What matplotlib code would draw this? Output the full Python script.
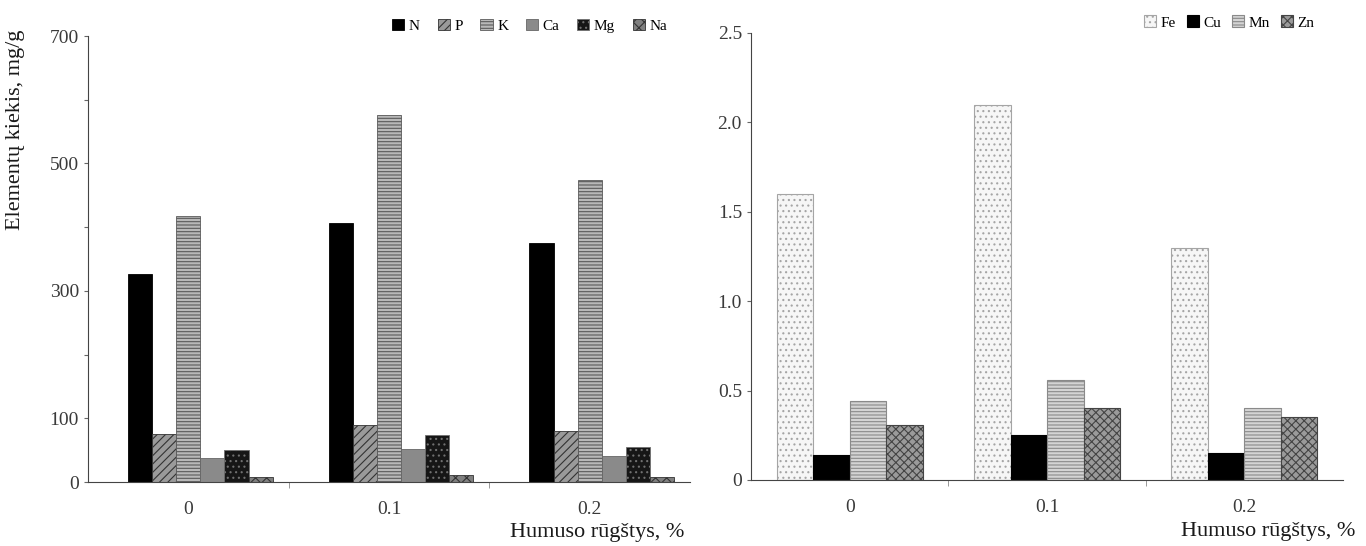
import numpy as np
import matplotlib.pyplot as plt

plt.rcParams['font.family'] = ['Liberation Serif', 'DejaVu Serif']
plt.rcParams['hatch.linewidth'] = 0.8

groups = ['0', '0.1', '0.2']

# macro elements, mg/g
macro = ['N', 'P', 'K', 'Ca', 'Mg', 'Na']
N = [326, 407, 375]
P = [75, 89, 80]
K = [418, 576, 474]
Ca = [37, 52, 41]
Mg = [50, 74, 55]
Na = [8, 11, 8]

# micro elements
micro = ['Fe', 'Cu', 'Mn', 'Zn']
Fe = [1.6, 2.1, 1.3]
Cu = [0.14, 0.25, 0.15]
Mn = [0.44, 0.56, 0.40]
Zn = [0.31, 0.40, 0.35]

macro_style = [
    dict(facecolor='black', edgecolor='black'),
    dict(facecolor='#9a9a9a', edgecolor='#333333', hatch='////'),
    dict(facecolor='#b8b8b8', edgecolor='#5a5a5a', hatch='-----'),
    dict(facecolor='#8a8a8a', edgecolor='#666666'),
    dict(facecolor='#161616', edgecolor='#707070', hatch='...'),
    dict(facecolor='#808080', edgecolor='#333333', hatch='xxx'),
]
micro_style = [
    dict(facecolor='#f6f6f6', edgecolor='#a5a5a5', hatch='...'),
    dict(facecolor='black', edgecolor='black'),
    dict(facecolor='#d4d4d4', edgecolor='#8a8a8a', hatch='-----'),
    dict(facecolor='#9a9a9a', edgecolor='#444444', hatch='xxxx'),
]

fig = plt.figure(figsize=(13.66, 5.46), dpi=100)
ax1 = fig.add_axes([0.0644, 0.1172, 0.4407, 0.8168])
ax2 = fig.add_axes([0.5498, 0.1209, 0.4334, 0.8187])

x = np.arange(len(groups))


def style_axes(ax):
    for s in ['top', 'right']:
        ax.spines[s].set_visible(False)
    ax.spines['left'].set_color('#444444')
    ax.spines['bottom'].set_color('#444444')
    ax.set_xlim(-0.5, 2.5)
    ax.set_xticks(x)
    ax.set_xticklabels(groups)
    ax.set_xticks([0.5, 1.5], minor=True)
    ax.tick_params(axis='x', which='major', length=0, pad=14, labelsize=14, colors='#3a3a3a')
    ax.tick_params(axis='x', which='minor', length=4, color='#888888')
    ax.tick_params(axis='y', length=3, color='#666666', labelsize=14, labelcolor='#3a3a3a')
    ax.set_xlabel('Humuso rūgštys, %', fontsize=16, color='#1a1a1a')


# left: macro elements
w1 = 0.12
vals1 = [N, P, K, Ca, Mg, Na]
for j, (name, v) in enumerate(zip(macro, vals1)):
    ax1.bar(x + 0.06 + (j - 2.5) * w1, v, w1, label=name, linewidth=0.6, **macro_style[j])
style_axes(ax1)
ax1.set_ylim(0, 700)
ax1.set_yticks(np.arange(0, 701, 100))
ax1.set_yticklabels(['0', '100', '', '300', '', '500', '', '700'])
ax1.set_ylabel('Elementų kiekis, mg/g', fontsize=16, color='#1a1a1a')
ax1.yaxis.set_label_coords(-0.105, 0.79)
ax1.xaxis.set_label_coords(0.99, -0.093)
ax1.xaxis.label.set_horizontalalignment('right')
ax1.legend(loc='upper right', bbox_to_anchor=(0.985, 1.07), ncol=6, frameon=False,
           fontsize=11, handlelength=0.8, handleheight=0.8, handletextpad=0.3,
           columnspacing=1.15)

# right: micro elements
w2 = 0.185
vals2 = [Fe, Cu, Mn, Zn]
for j, (name, v) in enumerate(zip(micro, vals2)):
    ax2.bar(x + (j - 1.5) * w2, v, w2, label=name, linewidth=0.8, **micro_style[j])
style_axes(ax2)
ax2.set_ylim(0, 2.5)
ax2.set_yticks(np.arange(0, 2.51, 0.5))
ax2.set_yticklabels(['0', '0.5', '1.0', '1.5', '2.0', '2.5'])
ax2.xaxis.set_label_coords(1.02, -0.093)
ax2.xaxis.label.set_horizontalalignment('right')
ax2.legend(loc='upper right', bbox_to_anchor=(0.975, 1.07), ncol=4, frameon=False,
           fontsize=11, handlelength=0.8, handleheight=0.8, handletextpad=0.3,
           columnspacing=0.7)

fig.savefig('out.png', dpi=100)
